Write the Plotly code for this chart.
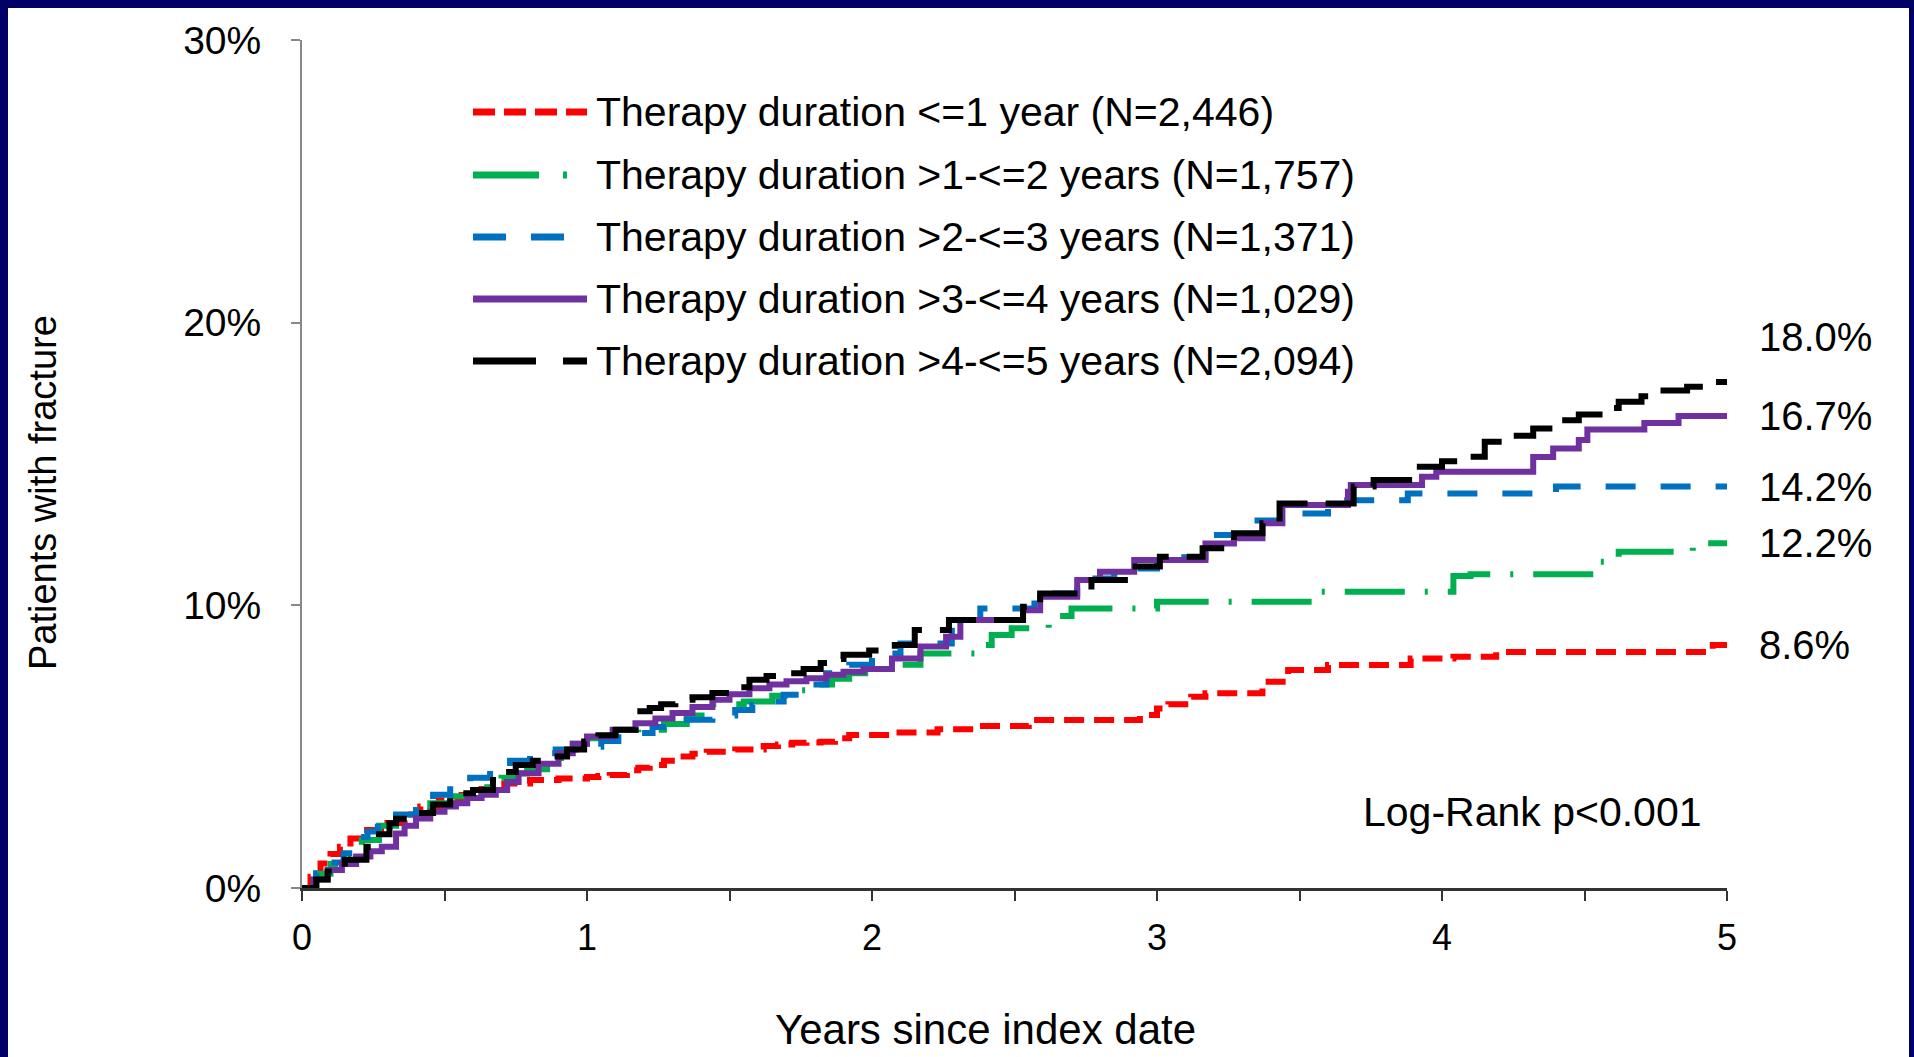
import plotly.graph_objects as go

# ---- cumulative fracture incidence (%) by years since index date ----
red_t = [0, 0.03, 0.065, 0.10, 0.133, 0.17, 0.21, 0.30, 0.36, 0.415, 0.48, 0.56, 0.63, 0.71,
         0.80, 0.90, 1.00, 1.04, 1.08, 1.14, 1.18, 1.22, 1.27, 1.32, 1.37, 1.42, 1.52, 1.62,
         1.67, 1.72, 1.77, 1.82, 1.87, 1.92, 2.08, 2.23, 2.37, 2.55, 2.94, 3.00, 3.04, 3.12,
         3.17, 3.37, 3.46, 3.60, 3.89, 4.04, 4.19, 4.95, 5.0]
red_v = [0, 0.4, 0.87, 1.2, 1.46, 1.75, 2.05, 2.3, 2.6, 2.88, 3.1, 3.29, 3.5, 3.70,
         3.82, 3.87, 3.93, 3.96, 4.0, 4.17, 4.25, 4.35, 4.5, 4.65, 4.75, 4.82, 4.9, 5.02,
         5.08, 5.14, 5.15, 5.17, 5.3, 5.41, 5.5, 5.62, 5.73, 5.94, 6.12, 6.35, 6.5, 6.77,
         6.89, 7.3, 7.71, 7.89, 8.12, 8.18, 8.35, 8.6, 8.6]

green_t = [0, 0.05, 0.10, 0.15, 0.21, 0.27, 0.33, 0.39, 0.45, 0.52, 0.60, 0.65, 0.70, 0.75,
           0.79, 0.86, 0.93, 1.00, 1.10, 1.18, 1.27, 1.35, 1.44, 1.55, 1.65, 1.72, 1.80, 1.86,
           1.92, 2.05, 2.17, 2.39, 2.42, 2.49, 2.62, 2.70, 3.00, 3.56, 4.04, 4.10, 4.54, 4.62,
           4.88, 5.0]
green_v = [0, 0.5, 0.85, 1.2, 1.7, 2.2, 2.4, 2.7, 3.0, 3.25, 3.5, 3.7, 3.9, 4.05,
           4.2, 4.6, 5.1, 5.3, 5.5, 5.6, 5.8, 6.1, 6.5, 6.6, 6.8, 7.0, 7.2, 7.4,
           7.6, 7.9, 8.3, 8.6, 8.95, 9.19, 9.62, 9.89, 10.13, 10.48, 11.04, 11.1, 11.54, 11.9,
           12.2, 12.2]

blue_t = [0, 0.05, 0.10, 0.146, 0.20, 0.23, 0.266, 0.33, 0.40, 0.46, 0.52, 0.59, 0.66, 0.73,
          0.80, 0.89, 0.98, 1.05, 1.11, 1.23, 1.35, 1.44, 1.52, 1.58, 1.64, 1.69, 1.76, 1.84,
          1.92, 2.00, 2.10, 2.28, 2.38, 2.57, 2.72, 2.85, 3.00, 3.17, 3.32, 3.47, 3.60, 3.88,
          4.40, 5.0]
blue_v = [0, 0.52, 0.9, 1.23, 1.8, 2.0, 2.29, 2.6, 2.88, 3.3, 3.7, 3.9, 4.17, 4.5,
          4.77, 4.9, 5.0, 5.2, 5.48, 5.7, 5.95, 6.1, 6.3, 6.48, 6.6, 6.84, 7.2, 7.6,
          7.9, 8.3, 8.65, 9.48, 9.89, 10.42, 10.95, 11.3, 11.7, 12.49, 13.0, 13.25, 13.72, 13.96,
          14.2, 14.2]

purple_t = [0, 0.04, 0.09, 0.14, 0.19, 0.24, 0.28, 0.33, 0.36, 0.40, 0.45, 0.50, 0.54, 0.58,
            0.63, 0.68, 0.72, 0.76, 0.83, 0.90, 0.95, 1.00, 1.09, 1.17, 1.24, 1.30, 1.37, 1.44,
            1.50, 1.57, 1.64, 1.70, 1.77, 1.84, 1.90, 1.97, 2.07, 2.17, 2.26, 2.31, 2.53, 2.59,
            2.72, 2.80, 2.92, 3.17, 3.27, 3.37, 3.44, 3.67, 3.68, 3.93, 3.98, 4.32, 4.39, 4.48,
            4.51, 4.71, 4.83, 5.0]
purple_v = [0, 0.3, 0.64, 0.85, 1.11, 1.3, 1.46, 1.93, 2.2, 2.46, 2.7, 2.88, 3.0, 3.18,
            3.3, 3.47, 3.75, 4.06, 4.4, 4.77, 5.1, 5.36, 5.6, 5.83, 6.0, 6.19, 6.4, 6.66,
            6.85, 7.07, 7.2, 7.31, 7.42, 7.54, 7.65, 7.75, 8.12, 8.54, 8.89, 9.48, 9.83, 10.3,
            10.9, 11.19, 11.6, 12.19, 12.37, 12.9, 13.55, 14.02, 14.26, 14.55, 14.73, 15.25, 15.55, 15.85,
            16.22, 16.45, 16.7, 16.7]

black_t = [0, 0.05, 0.09, 0.15, 0.226, 0.27, 0.307, 0.33, 0.40, 0.46, 0.52, 0.56, 0.60, 0.67,
           0.71, 0.75, 0.81, 0.87, 0.93, 0.99, 1.04, 1.10, 1.17, 1.22, 1.26, 1.31, 1.37, 1.44,
           1.50, 1.57, 1.63, 1.70, 1.76, 1.82, 1.86, 1.90, 1.99, 2.08, 2.15, 2.27, 2.53, 2.59,
           2.77, 2.90, 3.01, 3.16, 3.27, 3.37, 3.43, 3.69, 3.76, 3.91, 4.00, 4.10, 4.15, 4.25,
           4.32, 4.39, 4.48, 4.57, 4.62, 4.70, 4.76, 4.86, 4.93, 5.0]
black_v = [0, 0.3, 0.58, 1.0, 1.46, 1.9, 2.29, 2.45, 2.65, 2.95, 3.24, 3.35, 3.47, 3.82,
           4.1, 4.35, 4.5, 4.65, 4.9, 5.18, 5.4, 5.6, 6.25, 6.37, 6.5, 6.66, 6.75, 6.9,
           7.1, 7.37, 7.5, 7.6, 7.75, 7.96, 8.1, 8.25, 8.4, 8.6, 9.13, 9.48, 9.95, 10.42,
           10.9, 11.37, 11.72, 12.02, 12.55, 12.9, 13.6, 14.2, 14.43, 14.9, 15.1, 15.26, 15.79, 16.0,
           16.26, 16.55, 16.75, 16.98, 17.2, 17.4, 17.6, 17.73, 17.9, 18.0]

group_names = [
    "Therapy duration <=1 year (N=2,446)",
    "Therapy duration >1-<=2 years (N=1,757)",
    "Therapy duration >2-<=3 years (N=1,371)",
    "Therapy duration >3-<=4 years (N=1,029)",
    "Therapy duration >4-<=5 years (N=2,094)",
]
group_colors = ["#FF0000", "#00B050", "#0070C0", "#7030A0", "#000000"]
curve_dash = ["20px,10px", "60px,20px,3px,20px", "30px,25px", "solid", "46px,18px"]
legend_dash = ["22px,9px", "66px,24px,4px,40px", "33px,25px", "solid", "63px,27px,24px"]

y_ticks = [0, 10, 20, 30]
y_tick_text = ["0%", "10%", "20%", "30%"]
x_ticks = [0, 0.5, 1, 1.5, 2, 2.5, 3, 3.5, 4, 4.5, 5]
x_tick_text = ["0", "", "1", "", "2", "", "3", "", "4", "", "5"]

# ---- page geometry (pixels) ----
W, H = 1914, 1057
ML, MR, MT, MB = 302, 187, 40, 169
NAVY = "#000066"
FONT = "Liberation Sans, Arial, sans-serif"


def fx(px):
    return (px - ML) / (W - ML - MR)


def fy(py):
    return (H - MB - py) / (H - MT - MB)


series = [
    (red_t, red_v), (green_t, green_v), (blue_t, blue_v),
    (purple_t, purple_v), (black_t, black_v),
]

fig = go.Figure()
for (t, v), name, col, dash in zip(series, group_names, group_colors, curve_dash):
    fig.add_trace(go.Scatter(
        x=t, y=v, mode="lines", name=name, showlegend=False, hoverinfo="skip",
        line=dict(shape="hv", color=col, width=6, dash=dash),
    ))

shapes = [
    # white slide panel inside the navy frame
    dict(type="rect", xref="paper", yref="paper", layer="below",
         x0=fx(8), x1=fx(1909), y0=fy(1057), y1=fy(8),
         fillcolor="white", line=dict(width=0)),
]
annotations = []

# legend block
row_y = [112, 175, 237, 299, 361]
for ry, name, col, dash in zip(row_y, group_names, group_colors, legend_dash):
    shapes.append(dict(type="line", xref="paper", yref="paper",
                       x0=fx(473), x1=fx(587), y0=fy(ry), y1=fy(ry),
                       line=dict(color=col, width=7, dash=dash)))
    annotations.append(dict(xref="paper", yref="paper", x=fx(594), y=fy(ry),
                            xanchor="left", yanchor="middle", showarrow=False,
                            text=name, font=dict(size=41, color="#000", family=FONT)))

# end-of-follow-up values next to each curve
end_shift = [0, 0, 0, 0, 42]
for (t, v), shift in zip(series, end_shift):
    annotations.append(dict(xref="x", yref="y", x=t[-1], y=v[-1], xanchor="left",
                            yanchor="middle", xshift=30, yshift=shift, showarrow=False,
                            text=f"{v[-1]:.1f}%", font=dict(size=40, color="#000", family=FONT)))

annotations.append(dict(xref="x", yref="y", x=4.92, y=2.69, xanchor="right", yanchor="middle",
                        showarrow=False, text="Log-Rank p<0.001",
                        font=dict(size=41, color="#000", family=FONT)))

# axis titles
annotations.append(dict(xref="paper", yref="paper", x=fx(43), y=fy(493), textangle=-90,
                        xanchor="center", yanchor="middle", showarrow=False,
                        text="Patients with fracture",
                        font=dict(size=38, color="#000", family=FONT)))
annotations.append(dict(xref="paper", yref="paper", x=fx(985), y=fy(1029),
                        xanchor="center", yanchor="middle", showarrow=False,
                        text="Years since index date",
                        font=dict(size=42, color="#000", family=FONT)))

fig.update_layout(
    width=W, height=H, autosize=False,
    margin=dict(l=ML, r=MR, t=MT, b=MB, pad=0),
    paper_bgcolor=NAVY, plot_bgcolor="white",
    shapes=shapes, annotations=annotations,
    showlegend=False,
)
fig.update_xaxes(
    range=[0, 5], tickvals=x_ticks, ticktext=x_tick_text,
    ticks="outside", ticklen=10, tickwidth=2, tickcolor="#333333",
    showline=True, linecolor="#333333", linewidth=3,
    showgrid=False, zeroline=False, ticklabelstandoff=6,
    tickfont=dict(size=36, color="#000", family=FONT),
)
fig.update_yaxes(
    range=[0, 30], tickvals=y_ticks, ticktext=y_tick_text,
    ticks="outside", ticklen=9, tickwidth=2, tickcolor="#888888",
    showline=True, linecolor="#888888", linewidth=2,
    showgrid=False, zeroline=False, ticklabelstandoff=22,
    tickfont=dict(size=39, color="#000", family=FONT),
)

fig.write_html("out.html")
